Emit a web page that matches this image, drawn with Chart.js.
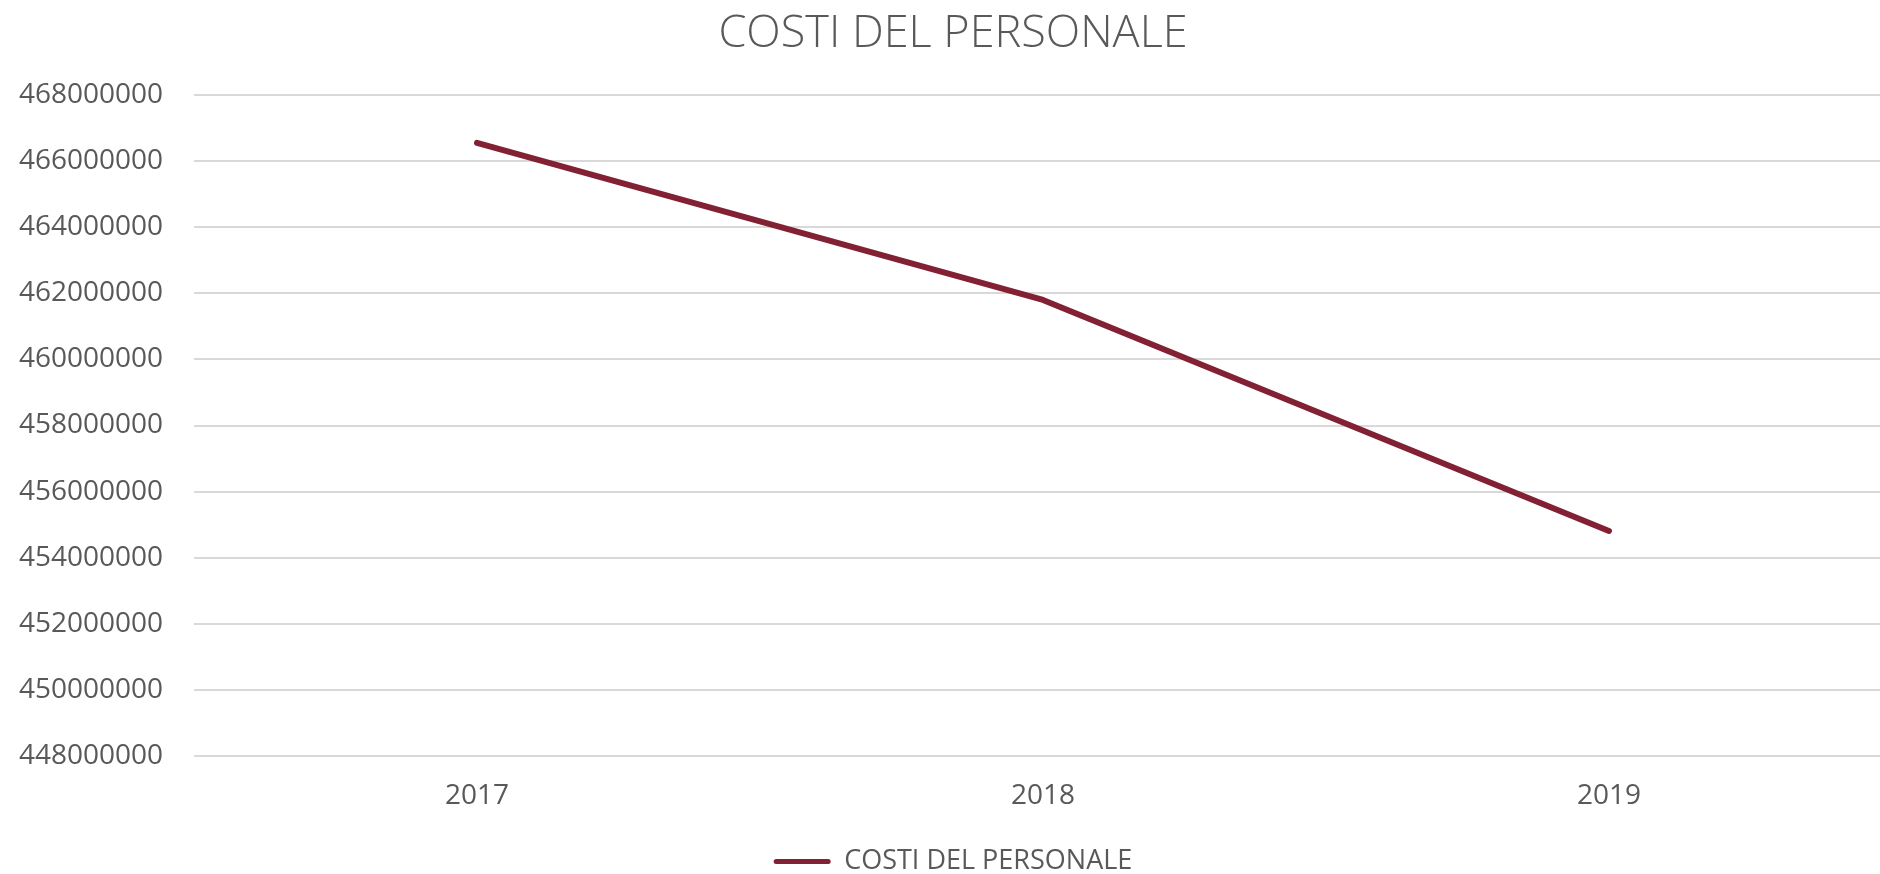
<!DOCTYPE html>
<html>
<head>
<meta charset="utf-8">
<script src="https://cdn.jsdelivr.net/npm/chart.js@4/dist/chart.umd.min.js"></script>
<style>
  html, body { margin: 0; padding: 0; background: #ffffff; overflow: hidden; }
  #wrap { width: 1880px; height: 874px; overflow: hidden; }
  canvas { display: block; }
</style>
</head>
<body>
<div id="wrap"><canvas id="c" width="1892" height="885"></canvas></div>
<script>
const chartTitle = 'COSTI DEL PERSONALE';
const seriesName = 'COSTI DEL PERSONALE';
const categories = ['2017', '2018', '2019'];
const costs = [466550000, 461800000, 454810000];
const yMin = 448000000;
const yMax = 468000000;
const yStep = 2000000;

const lineColor = '#822133';
const textColor = '#595959';
const gridColor = '#d9d9d9';

new Chart(document.getElementById('c'), {
  type: 'line',
  data: {
    labels: categories,
    datasets: [{
      label: seriesName,
      data: costs,
      borderColor: lineColor,
      backgroundColor: lineColor,
      borderWidth: 6,
      pointRadius: 0,
      pointHoverRadius: 0,
      tension: 0,
      borderCapStyle: 'round',
      borderJoinStyle: 'round',
      fill: false
    }]
  },
  options: {
    responsive: false,
    animation: false,
    events: [],
    layout: { padding: { left: 14, right: 0, top: 0, bottom: 0 } },
    plugins: {
      title: {
        display: true,
        text: chartTitle,
        color: textColor,
        font: { family: '"Open Sans", sans-serif', size: 45, weight: '300' },
        padding: { top: 7, bottom: 34 }
      },
      legend: {
        display: true,
        position: 'bottom',
        labels: {
          color: textColor,
          font: { family: '"Open Sans", sans-serif', size: 27 },
          boxWidth: 57,
          boxHeight: 5,
          useBorderRadius: true,
          borderRadius: 2.5,
          padding: 0,
          generateLabels: (chart) => Chart.defaults.plugins.legend.labels.generateLabels(chart).map(l => {
            l.fillStyle = lineColor;
            l.strokeStyle = 'rgba(0,0,0,0)';
            l.lineWidth = 0;
            return l;
          })
        }
      },
      tooltip: { enabled: false }
    },
    scales: {
      x: {
        offset: true,
        grid: { display: false, drawTicks: false },
        border: { display: false },
        ticks: {
          color: textColor,
          font: { family: '"Open Sans", sans-serif', size: 28 },
          padding: 23
        },
        afterFit: (scale) => { scale.height = 92; }
      },
      y: {
        min: yMin,
        max: yMax,
        grid: { color: gridColor, lineWidth: 2, drawTicks: false },
        border: { display: false },
        ticks: {
          stepSize: yStep,
          color: textColor,
          font: { family: '"Open Sans", sans-serif', size: 28 },
          padding: 31,
          callback: (v) => String(v)
        },
        afterFit: (scale) => { scale.width = 180; }
      }
    }
  }
});
</script>
</body>
</html>
